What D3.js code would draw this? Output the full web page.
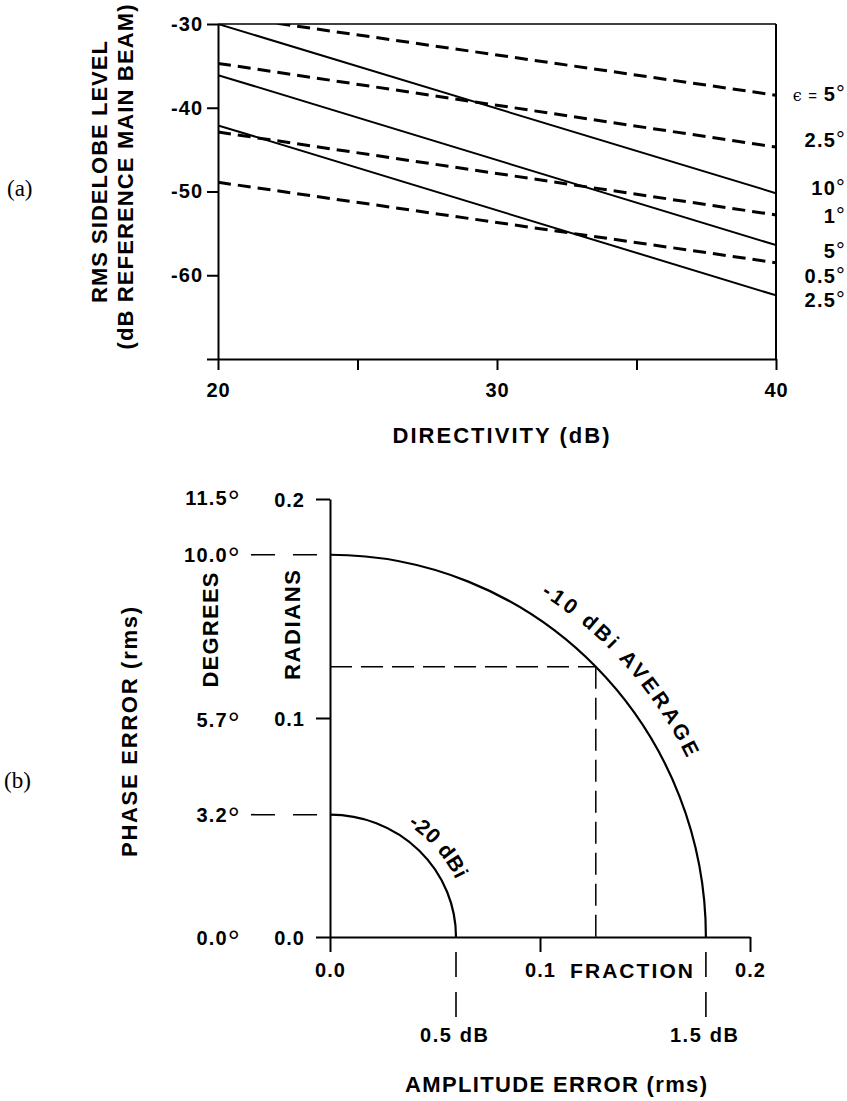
<!DOCTYPE html>
<html>
<head>
<meta charset="utf-8">
<script src="https://cdn.jsdelivr.net/npm/d3@7"></script>
<style>
  html, body { margin: 0; padding: 0; background: #fff; }
  svg { display: block; }
  text { font-family: "Liberation Sans", Arial, Helvetica, sans-serif; font-weight: bold; fill: #000; }
  .serif { font-family: "Liberation Serif", "Times New Roman", serif; font-weight: normal; }
</style>
</head>
<body>
<svg id="chart" width="847" height="1101"></svg>
<script>
// ---------- data: panel (a) RMS sidelobe level vs directivity ----------
const directivityDb = [20, 40];
const directivityTicks = [20, 25, 30, 35, 40];
const directivityLabels = [20, 30, 40];
const sidelobeTicks = [-30, -40, -50, -60, -70];
const sidelobeLabels = [-30, -40, -50, -60];

// solid curves (rms phase error epsilon, degrees) : level at 20 dB and 40 dB
const solidEps = ["10", "5", "2.5"];
const solidLevels = [[-30.0, -50.2], [-36.1, -56.4], [-42.1, -62.4]];
// dashed curves
const dashedEps = ["5", "2.5", "1", "0.5"];
const dashedLevels = [[-28.9, -38.5], [-34.7, -44.7], [-42.9, -52.8], [-48.9, -58.5]];

// ---------- data: panel (b) phase / amplitude error contours ----------
const radianTicks = [0, 0.1, 0.2];
const fractionTicks = [0, 0.1, 0.2];
const degreeTicks = [11.5, 10.0, 5.7, 3.2, 0.0];
const contourNames = ["-10 dBi AVERAGE", "-20 dBi"];
const contourPhaseDeg = [10.0, 3.2];
const contourAmpFraction = [0.179, 0.060];
const contourAmpLabels = ["1.5 dB", "0.5 dB"];

// ---------- drawing ----------
const svg = d3.select("#chart");
const ink = "#000";

function addDegree(textSel, num, size, shift) {
  textSel.text(null);
  textSel.append("tspan").text(num);
  textSel.append("tspan")
    .attr("font-size", size)
    .attr("font-weight", "normal")
    .attr("dy", shift)
    .text("°");
}

function styleAxis(g, fontSize) {
  g.select(".domain").attr("stroke", ink).attr("stroke-width", 2);
  g.selectAll(".tick line").attr("stroke", ink).attr("stroke-width", 2);
  g.selectAll(".tick text")
    .attr("font-size", fontSize)
    .attr("letter-spacing", 1)
    .attr("fill", ink);
  g.attr("font-family", null).attr("font-size", null);
}

// ================= panel (a) =================
const xA = d3.scaleLinear().domain([20, 40]).range([218, 776]);
const yA = d3.scaleLinear().domain([-70, -30]).range([359, 24]);
const gA = svg.append("g");

gA.append("clipPath").attr("id", "plotA")
  .append("rect")
  .attr("x", xA(20)).attr("y", yA(-30))
  .attr("width", xA(40) - xA(20)).attr("height", yA(-70) - yA(-30));

const axisLeftA = gA.append("g")
  .attr("transform", `translate(${xA(20)},0)`)
  .call(d3.axisLeft(yA).tickValues(sidelobeTicks).tickSize(11).tickSizeOuter(0)
    .tickPadding(4).tickFormat(d => sidelobeLabels.includes(d) ? String(d) : ""));
styleAxis(axisLeftA, 20);
axisLeftA.selectAll(".tick text").attr("dy", "0.32em");

const axisBottomA = gA.append("g")
  .attr("transform", `translate(0,${yA(-70)})`)
  .call(d3.axisBottom(xA).tickValues(directivityTicks).tickSize(11).tickSizeOuter(0)
    .tickPadding(13).tickFormat(d => directivityLabels.includes(d) ? String(d) : ""));
styleAxis(axisBottomA, 20);

// frame: top and right edges
gA.append("line")
  .attr("x1", xA(20)).attr("x2", xA(40)).attr("y1", yA(-30)).attr("y2", yA(-30))
  .attr("stroke", ink).attr("stroke-width", 1.6);
gA.append("line")
  .attr("x1", xA(40)).attr("x2", xA(40)).attr("y1", yA(-30)).attr("y2", yA(-70))
  .attr("stroke", ink).attr("stroke-width", 2);

const lineA = d3.line().x((d, i) => xA(directivityDb[i])).y(d => yA(d));
const plotA = gA.append("g").attr("clip-path", "url(#plotA)");
plotA.selectAll("path.solid").data(solidLevels).join("path")
  .attr("class", "solid").attr("d", lineA)
  .attr("fill", "none").attr("stroke", ink).attr("stroke-width", 2);
plotA.selectAll("path.dashed").data(dashedLevels).join("path")
  .attr("class", "dashed").attr("d", lineA)
  .attr("fill", "none").attr("stroke", ink).attr("stroke-width", 3)
  .attr("stroke-dasharray", "13,7");

// end-of-curve labels, top to bottom, with small vertical spreading
const endLabels = solidEps.map((e, i) => ({ eps: e, end: solidLevels[i][1], dashed: false }))
  .concat(dashedEps.map((e, i) => ({ eps: e, end: dashedLevels[i][1], dashed: true })))
  .sort((a, b) => b.end - a.end);
const labelNudge = [6, 0, 2, 8, 13, 20, 12];
endLabels.forEach((d, i) => {
  const t = gA.append("text")
    .attr("x", 846).attr("y", yA(d.end) + labelNudge[i])
    .attr("text-anchor", "end").attr("font-size", 20).attr("letter-spacing", 1.2);
  if (i === 0) {
    t.append("tspan").attr("font-family", "DejaVu Serif").attr("font-weight", "normal")
      .attr("font-size", 16).text("ϵ");
    t.append("tspan").attr("font-weight", "normal").attr("font-size", 15).text(" = ");
    t.append("tspan").text(d.eps);
    t.append("tspan").attr("font-size", 22).attr("font-weight", "normal").text("°");
  } else {
    addDegree(t, d.eps, 22, 0);
  }
});

// axis titles
gA.append("text")
  .attr("x", 501).attr("y", 443).attr("text-anchor", "middle")
  .attr("font-size", 22).attr("textLength", 217).attr("lengthAdjust", "spacing")
  .text("DIRECTIVITY (dB)");
gA.append("text")
  .attr("transform", "translate(107,172) rotate(-90)").attr("text-anchor", "middle")
  .attr("font-size", 22).attr("textLength", 262).attr("lengthAdjust", "spacing")
  .text("RMS SIDELOBE LEVEL");
gA.append("text")
  .attr("transform", "translate(133,177) rotate(-90)").attr("text-anchor", "middle")
  .attr("font-size", 22).attr("textLength", 345).attr("lengthAdjust", "spacing")
  .text("(dB REFERENCE MAIN BEAM)");
gA.append("text").attr("class", "serif")
  .attr("x", 7).attr("y", 196).attr("font-size", 23).text("(a)");

// ================= panel (b) =================
const xB = d3.scaleLinear().domain([0, 0.2]).range([330, 750]);
const yB = d3.scaleLinear().domain([0, 0.2]).range([937, 499]);
const gB = svg.append("g");
const toRad = deg => deg * Math.PI / 180;

const axisLeftB = gB.append("g")
  .attr("transform", `translate(${xB(0)},0)`)
  .call(d3.axisLeft(yB).tickValues(radianTicks).tickSize(14).tickSizeOuter(0)
    .tickPadding(11).tickFormat(d3.format(".1f")));
styleAxis(axisLeftB, 20);
axisLeftB.selectAll(".tick text").attr("dy", "0.38em");

const axisBottomB = gB.append("g")
  .attr("transform", `translate(0,${yB(0)})`)
  .call(d3.axisBottom(xB).tickValues(fractionTicks).tickSize(15).tickSizeOuter(0)
    .tickPadding(11).tickFormat(d3.format(".1f")));
styleAxis(axisBottomB, 20);

gB.append("text")
  .attr("x", 570).attr("y", 978).attr("font-size", 21)
  .attr("textLength", 123).attr("lengthAdjust", "spacing")
  .text("FRACTION");

// degree scale on the far left
gB.selectAll("text.deg").data(degreeTicks).join("text")
  .attr("class", "deg")
  .attr("x", 241).attr("y", d => yB(toRad(d)) + 7.5)
  .attr("text-anchor", "end").attr("font-size", 20).attr("letter-spacing", 1.2)
  .each(function (d) { addDegree(d3.select(this), d.toFixed(1), 30, 6); });

// leaders from the degree labels to the contour tops
gB.selectAll("line.phaseLead").data(contourPhaseDeg).join("line")
  .attr("class", "phaseLead")
  .attr("x1", 251).attr("x2", 317)
  .attr("y1", d => yB(toRad(d))).attr("y2", d => yB(toRad(d)))
  .attr("stroke", ink).attr("stroke-width", 1.6).attr("stroke-dasharray", "24,18");

// leaders below the amplitude axis with dB labels
gB.selectAll("line.ampLead").data(contourAmpFraction).join("line")
  .attr("class", "ampLead")
  .attr("x1", d => xB(d)).attr("x2", d => xB(d))
  .attr("y1", yB(0) + 15).attr("y2", yB(0) + 80)
  .attr("stroke", ink).attr("stroke-width", 1.6).attr("stroke-dasharray", "25,15");
gB.selectAll("text.ampLab").data(contourAmpFraction).join("text")
  .attr("class", "ampLab")
  .attr("x", d => xB(d) - 2).attr("y", 1042)
  .attr("text-anchor", "middle").attr("font-size", 20)
  .attr("textLength", 68).attr("lengthAdjust", "spacing")
  .text((d, i) => contourAmpLabels[i]);

// equal-error contours (quarter ellipses)
function quarterArc(amp, phaseRad, off, a0, a1) {
  const cx = xB(0), cy = yB(0);
  const rx = xB(amp) - cx + off, ry = cy - yB(phaseRad) + off;
  const p = a => [cx + rx * Math.cos(a * Math.PI / 180), cy - ry * Math.sin(a * Math.PI / 180)];
  const s = p(a0), e = p(a1);
  return `M${s[0]},${s[1]}A${rx},${ry} 0 0 1 ${e[0]},${e[1]}`;
}
gB.selectAll("path.contour").data(contourPhaseDeg).join("path")
  .attr("class", "contour")
  .attr("d", (d, i) => quarterArc(contourAmpFraction[i], toRad(d), 0, 90, 0))
  .attr("fill", "none").attr("stroke", ink).attr("stroke-width", 2.2);

// dashed guides to the 45-degree point of the -10 dBi contour
const gx = contourAmpFraction[0] * Math.SQRT1_2;
const gy = toRad(contourPhaseDeg[0]) * Math.SQRT1_2;
gB.append("path")
  .attr("d", `M${xB(0)},${yB(gy)}H${xB(gx)}`)
  .attr("fill", "none").attr("stroke", ink).attr("stroke-width", 1.5).attr("stroke-dasharray", "22,9");
gB.append("path")
  .attr("d", `M${xB(gx)},${yB(gy)}V${yB(0)}`)
  .attr("fill", "none").attr("stroke", ink).attr("stroke-width", 1.5).attr("stroke-dasharray", "22,9");

// contour names set along the curves
const labelArc = [{ off: 22, a0: 58, a1: 15, len: 222 }, { off: 13, a0: 56, a1: 10, len: 74 }];
labelArc.forEach((L, i) => {
  gB.append("path").attr("id", "lab" + i)
    .attr("d", quarterArc(contourAmpFraction[i], toRad(contourPhaseDeg[i]), L.off, L.a0, L.a1))
    .attr("fill", "none").attr("stroke", "none");
  gB.append("text").attr("font-size", 21)
    .append("textPath").attr("href", "#lab" + i)
    .attr("textLength", L.len).attr("lengthAdjust", "spacing")
    .text(contourNames[i]);
});

// axis titles
gB.append("text")
  .attr("transform", "translate(218,630) rotate(-90)").attr("text-anchor", "middle")
  .attr("font-size", 22).attr("textLength", 115).attr("lengthAdjust", "spacing")
  .text("DEGREES");
gB.append("text")
  .attr("transform", "translate(300,625) rotate(-90)").attr("text-anchor", "middle")
  .attr("font-size", 22).attr("textLength", 110).attr("lengthAdjust", "spacing")
  .text("RADIANS");
gB.append("text")
  .attr("transform", "translate(137,732) rotate(-90)").attr("text-anchor", "middle")
  .attr("font-size", 22).attr("textLength", 250).attr("lengthAdjust", "spacing")
  .text("PHASE ERROR (rms)");
gB.append("text")
  .attr("x", 556).attr("y", 1092).attr("text-anchor", "middle")
  .attr("font-size", 22).attr("textLength", 302).attr("lengthAdjust", "spacing")
  .text("AMPLITUDE ERROR (rms)");
gB.append("text").attr("class", "serif")
  .attr("x", 4).attr("y", 788).attr("font-size", 23).text("(b)");
</script>
</body>
</html>
